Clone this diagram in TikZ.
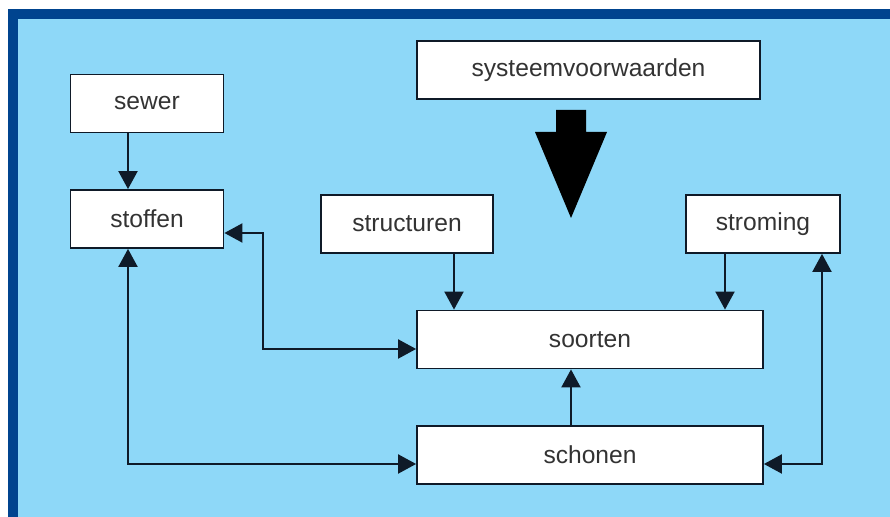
\documentclass[tikz,border=0pt]{standalone}
\usepackage{fontspec}
\setmainfont{Liberation Sans}
\usetikzlibrary{positioning,calc,arrows.meta}
\definecolor{hemel}{HTML}{8ED8F8}
\definecolor{rand}{HTML}{00448F}
\definecolor{lijn}{HTML}{0F1A28}

\begin{document}
\begin{tikzpicture}[x=0.5pt, y=-0.5pt, font=\fontsize{12.3}{14}\selectfont,
          box/.style={draw=lijn, line width=0.9pt, fill=white, text=black!80,
                      inner sep=0pt, minimum height=29pt, text centered},
          pijl/.style={-{Triangle[length=9pt,width=9.5pt]}, line width=1pt, draw=lijn},
          dubbel/.style={{Triangle[length=9pt,width=9.5pt]}-{Triangle[length=9pt,width=9.5pt]},
                         line width=1pt, draw=lijn}]
        % achtergrond met rand
        \fill[white] (0,0) rectangle (890,517);
        \fill[rand] (8,9) rectangle (890,517);
        \fill[hemel] (18,19) rectangle (890,517);
        \useasboundingbox (0,0) rectangle (890,517);
        % vakken
        \node[box, minimum width=171.5pt] (sysv) at (588.5,70) {systeemvoorwaarden};
        \node[box, minimum width=76.5pt]  (sewer) at (147,103.5) {sewer};
        \node[box, minimum width=76.5pt]  (stoffen) at (147,219) {stoffen};
        \node[box, minimum width=86pt]    (structuren) at (407,224) {structuren};
        \node[box, minimum width=77pt]    (stroming) at (763,224) {stroming};
        \node[box, minimum width=173pt]   (soorten) at (590,339.5) {soorten};
        \node[box, minimum width=173pt]   (schonen) at (590,455) {schonen};
        % dikke pijl onder systeemvoorwaarden
        \fill[black] (556,110) -- (586,110) -- (586,132) -- (607,132)
          -- (571,218) -- (535,132) -- (556,132) -- cycle;
        % hulppunten voor de lijnen
        \coordinate (xl) at (128,0);
        \coordinate (xs) at (454,0);
        \coordinate (xm) at (571,0);
        \coordinate (xr) at (725,0);
        \coordinate (xo) at (822,0);
        \coordinate (yo) at (0,464);
        \coordinate (knik) at (263,349);
        % verbindingen
        \draw[pijl] (sewer.south -| xl) -- (stoffen.north -| xl);
        \draw[pijl] (structuren.south -| xs) -- (soorten.north -| xs);
        \draw[pijl] (stroming.south -| xr) -- (soorten.north -| xr);
        \draw[pijl] (schonen.north -| xm) -- (soorten.south -| xm);
        \draw[dubbel] ([yshift=-7pt]stoffen.east) -| (knik) -- (soorten.west |- knik);
        \draw[dubbel] (stoffen.south -| xl) |- (schonen.west |- yo);
        \draw[dubbel] (stroming.south -| xo) |- (schonen.east |- yo);
      \end{tikzpicture}
\end{document}
